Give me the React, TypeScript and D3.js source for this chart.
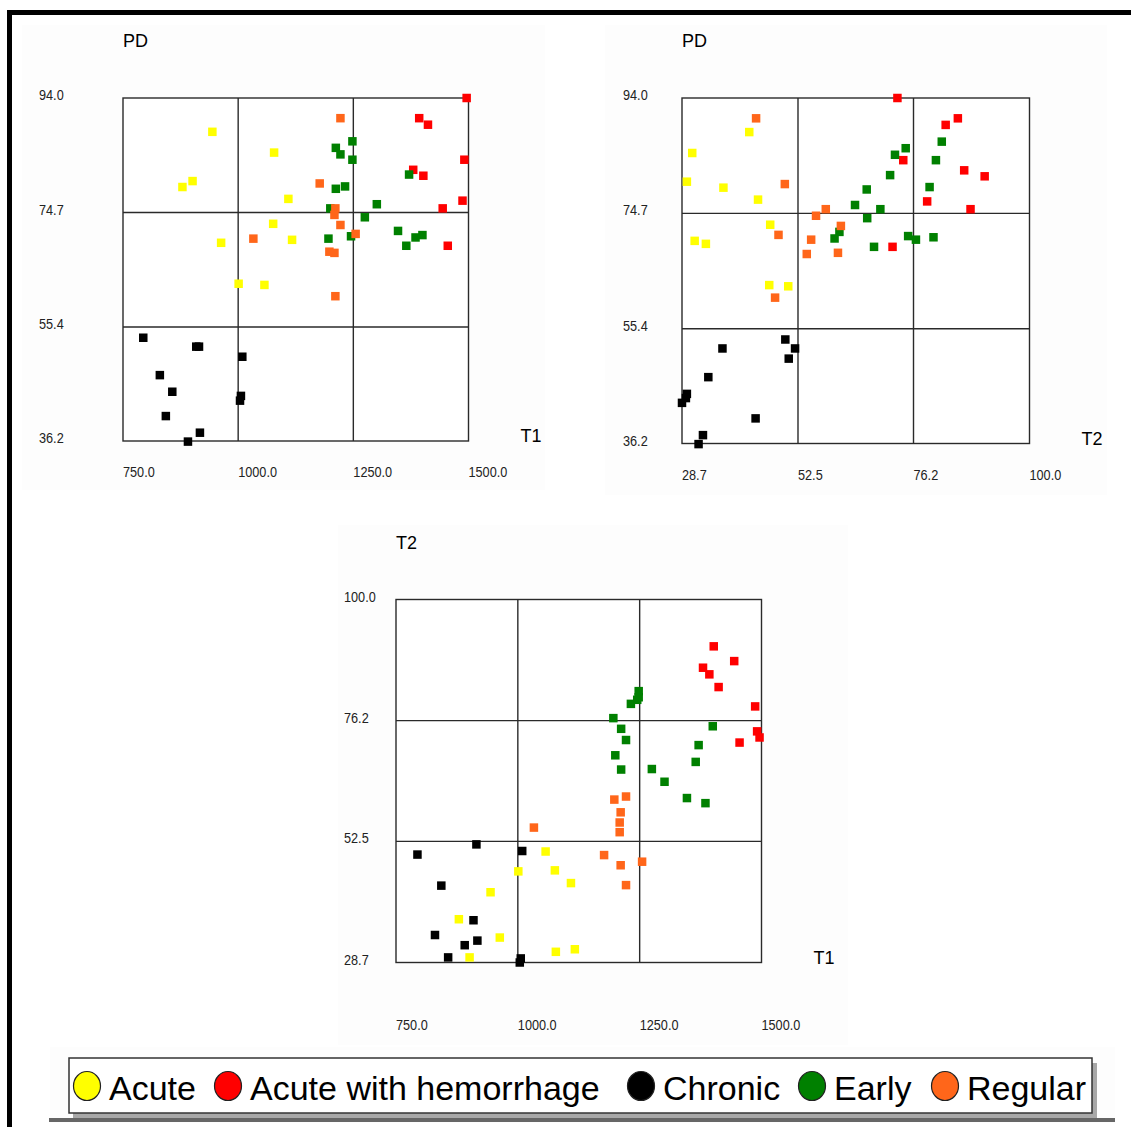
import React from 'react';
import * as d3 from 'd3';

// each subject is [T1, T2, PD]
const acute = [
  [944, 42.5, 88.3], [1078, 30.8, 84.8], [879, 37.2, 79.0], [901, 29.7, 80.0],
  [1109, 44.3, 77.0], [1076, 46.8, 72.8], [963, 33.6, 69.6], [1117, 31.3, 70.1],
  [1001, 46.6, 62.7], [1057, 50.5, 62.5],
];
const hemorrhage = [
  [1496, 72.9, 94.0], [1393, 85.3, 90.6], [1412, 82.8, 89.5], [1491, 74.1, 83.6],
  [1380, 86.6, 81.9], [1402, 90.8, 80.9], [1487, 79.0, 76.7], [1444, 87.9, 75.4],
  [1455, 71.9, 69.1],
];
const chronic = [
  [794, 49.9, 53.6], [909, 37.0, 52.1], [915, 51.9, 52.1], [1009, 50.6, 50.4],
  [830, 34.1, 47.3], [857, 29.7, 44.5], [1006, 29.5, 43.8], [1004, 28.7, 43.0],
  [843, 43.8, 40.4], [917, 33.0, 37.6], [891, 32.1, 36.1],
];
const early = [
  [1248, 82.0, 86.7], [1245, 80.3, 70.7], [1248, 80.8, 83.6], [1232, 79.5, 79.1],
  [1196, 76.7, 70.3], [1212, 74.6, 85.6], [1222, 72.4, 84.5], [1200, 69.4, 75.4],
  [1212, 66.6, 78.7], [1275, 66.7, 73.9], [1301, 64.2, 76.1], [1347, 61.0, 71.6],
  [1385, 60.0, 70.5], [1365, 68.1, 69.1], [1371, 71.4, 81.1], [1400, 75.1, 70.9],
];
const regular = [
  [1222, 43.9, 90.6], [1177, 49.8, 79.6], [1211, 58.2, 75.4], [1209, 56.2, 74.3],
  [1222, 61.3, 72.6], [1255, 48.5, 71.1], [1033, 55.2, 70.3], [1198, 60.7, 68.1],
  [1209, 54.3, 67.9], [1211, 47.8, 60.6],
];

const groupNames = ['Acute', 'Acute with hemorrhage', 'Chronic', 'Early', 'Regular'];
const groupColors = ['#ffff00', '#ff0000', '#000000', '#008000', '#ff661a'];
const groupRows = [acute, hemorrhage, chronic, early, regular];

const t1Ticks = [750, 1000, 1250, 1500];
const t2Ticks = [28.7, 52.5, 76.2, 100];
const pdTicks = [36.2, 55.4, 74.7, 94.0];

// layout of the three scatter panels
const panels = [
  { title: 'PD', xName: 'T1', xi: 0, yi: 2, xTicks: t1Ticks, yTicks: pdTicks,
    left: 123, right: 468.5, top: 98, bottom: 441, yLabelX: 39, xLabelY: 477,
    bg: [22, 25, 523, 465] },
  { title: 'PD', xName: 'T2', xi: 1, yi: 2, xTicks: t2Ticks, yTicks: pdTicks,
    left: 682, right: 1029.5, top: 98, bottom: 443.5, yLabelX: 623, xLabelY: 480,
    bg: [605, 25, 502, 470] },
  { title: 'T2', xName: 'T1', xi: 0, yi: 1, xTicks: t1Ticks, yTicks: t2Ticks,
    left: 396, right: 761.5, top: 599.5, bottom: 962.5, yLabelX: 344, xLabelY: 1030,
    bg: [338, 525, 510, 520] },
];

// legend marker x positions
const legendX = [87, 228, 641, 812, 945];

const mainFont = '"Liberation Sans", Arial, sans-serif';

// condensed tick label (narrow font is not available, so squeeze horizontally)
function Tick({ x, y, label }) {
  return (
    <text transform={`translate(${x},${y}) scale(0.82,1)`} fontSize={15.5}
      fontFamily={mainFont} fill="#222">{label}</text>
  );
}

function Panel({ p }) {
  const x = d3.scaleLinear().domain([p.xTicks[0], p.xTicks[3]]).range([p.left, p.right]);
  const y = d3.scaleLinear().domain([p.yTicks[0], p.yTicks[3]]).range([p.bottom, p.top]);
  const fmt = d3.format('.1f');
  return (
    <g>
      <rect x={p.bg[0]} y={p.bg[1]} width={p.bg[2]} height={p.bg[3]} fill="#fdfdfd" />
      <rect x={p.left} y={p.top} width={p.right - p.left} height={p.bottom - p.top}
        fill="#ffffff" stroke="#2a2a2a" strokeWidth={1.4} />
      {p.xTicks.slice(1, 3).map(t => (
        <line key={'vx' + t} x1={x(t)} x2={x(t)} y1={p.top} y2={p.bottom} stroke="#2a2a2a" strokeWidth={1.4} />
      ))}
      {p.yTicks.slice(1, 3).map(t => (
        <line key={'hy' + t} x1={p.left} x2={p.right} y1={y(t)} y2={y(t)} stroke="#2a2a2a" strokeWidth={1.4} />
      ))}
      {p.xTicks.map(t => <Tick key={'xl' + t} x={x(t)} y={p.xLabelY} label={fmt(t)} />)}
      {p.yTicks.map(t => <Tick key={'yl' + t} x={p.yLabelX} y={y(t) + 2} label={fmt(t)} />)}
      <text x={p.left} y={p.top - 51} fontSize={18} fontFamily={mainFont} fill="#000">{p.title}</text>
      <text x={p.right + 52} y={p.bottom + 1} fontSize={18} fontFamily={mainFont} fill="#000">{p.xName}</text>
      {groupRows.map((rows, gi) => (
        <g key={gi}>
          {rows.map((r, i) => (
            <rect key={i} x={x(r[p.xi]) - 4.25} y={y(r[p.yi]) - 4.25} width={8.5} height={8.5} fill={groupColors[gi]} />
          ))}
        </g>
      ))}
    </g>
  );
}

export default function App() {
  return (
    <svg width={1131} height={1127} style={{ position: 'absolute', left: 0, top: 0, background: '#fff' }}>
      <rect x={0} y={0} width={1131} height={1127} fill="#ffffff" />
      {/* outer frame */}
      <rect x={7} y={10} width={1124} height={5} fill="#000" />
      <rect x={7} y={10} width={5} height={1117} fill="#000" />
      {panels.map((p, i) => <Panel key={i} p={p} />)}
      {/* legend */}
      <rect x={50} y={1047} width={1065} height={76} fill="#fdfdfd" />
      <rect x={73} y={1063} width={1024} height={55} fill="#a8a8a8" />
      <rect x={49} y={1118} width={1066} height={4} fill="#666" />
      <rect x={69} y={1058} width={1023} height={55} fill="#ffffff" stroke="#333" strokeWidth={1.5} />
      {groupNames.map((name, i) => (
        <g key={name}>
          <ellipse cx={legendX[i]} cy={1086} rx={13.5} ry={14.5} fill={groupColors[i]} stroke="#222" strokeWidth={1.2} />
          <text x={legendX[i] + 22} y={1100} fontSize={34} fontFamily={mainFont} fill="#000">{name}</text>
        </g>
      ))}
    </svg>
  );
}
